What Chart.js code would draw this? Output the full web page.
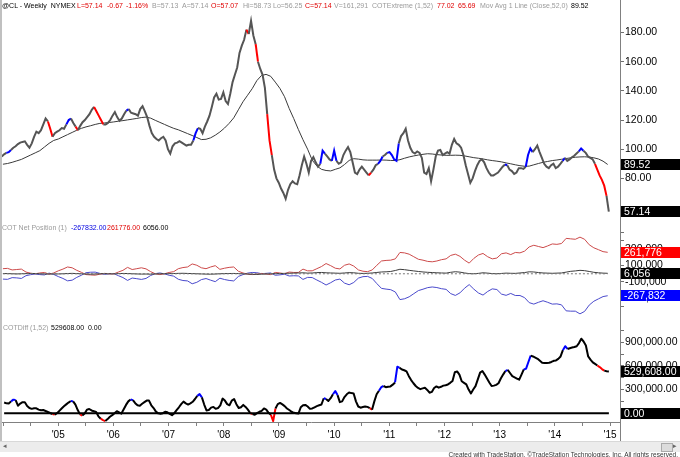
<!DOCTYPE html>
<html><head><meta charset="utf-8">
<script src="https://cdn.jsdelivr.net/npm/chart.js@4.4.1/dist/chart.umd.min.js"></script>
<style>
body{margin:0;background:#fff;width:680px;height:457px;overflow:hidden;position:relative;font-family:"Liberation Sans",Arial,sans-serif;}
canvas{position:absolute;left:0;}
.h{position:absolute;font-size:7px;white-space:pre;line-height:8px;}
.g{color:#9a9a9a}.r{color:#e00000}.k{color:#000}.b{color:#0000e0}
.box{position:absolute;left:621px;width:59px;height:11px;line-height:11px;font-size:10.5px;color:#fff;padding-left:3px;box-sizing:border-box;}
</style></head><body>
<canvas id="c1" width="680" height="223" style="top:0"></canvas>
<canvas id="c2" width="680" height="99" style="top:223px"></canvas>
<canvas id="c3" width="680" height="120" style="top:322px"></canvas>
<div style="position:absolute;left:620px;top:0;width:1px;height:441px;background:#808080"></div>
<div style="position:absolute;left:0;top:0;width:2px;height:441px;background:#c0c0c0"></div>
<div style="position:absolute;left:0;top:441px;width:680px;height:10px;background:#ececec;border-top:1px solid #d8d8d8"></div>
<div style="position:absolute;left:3px;top:442px;font-size:7px;color:#666">&#9666;</div>
<div style="position:absolute;left:661px;top:443px;width:10px;height:7px;background:#dcdcdc;border:1px solid #aaa"></div>
<div style="position:absolute;left:673px;top:442px;font-size:7px;color:#666">&#9656;</div>
<div style="position:absolute;right:2px;top:451px;font-size:6.5px;color:#333;white-space:pre">Created with TradeStation. ©TradeStation Technologies, Inc. All rights reserved.</div>

<div class="h k" style="left:2px;top:2px">@CL - Weekly  NYMEX</div>
<div class="h r" style="left:77px;top:2px">L=57.14</div>
<div class="h r" style="left:107px;top:2px">-0.67</div>
<div class="h r" style="left:126px;top:2px">-1.16%</div>
<div class="h g" style="left:152px;top:2px">B=57.13</div>
<div class="h g" style="left:182px;top:2px">A=57.14</div>
<div class="h r" style="left:211px;top:2px">O=57.07</div>
<div class="h g" style="left:243px;top:2px">Hi=58.73</div>
<div class="h g" style="left:273px;top:2px">Lo=56.25</div>
<div class="h r" style="left:305px;top:2px">C=57.14</div>
<div class="h g" style="left:334px;top:2px">V=161,291</div>
<div class="h g" style="left:372px;top:2px">COTExtreme (1,52)</div>
<div class="h r" style="left:437px;top:2px">77.02</div>
<div class="h r" style="left:458px;top:2px">65.69</div>
<div class="h g" style="left:480px;top:2px">Mov Avg 1 Line (Close,52,0)</div>
<div class="h k" style="left:571px;top:2px">89.52</div>

<div class="h g" style="left:2px;top:224px">COT Net Position (1)</div>
<div class="h b" style="left:71px;top:224px">-267832.00</div>
<div class="h r" style="left:107px;top:224px">261776.00</div>
<div class="h k" style="left:143px;top:224px">6056.00</div>

<div class="h g" style="left:3px;top:324px">COTDiff (1,52)</div>
<div class="h k" style="left:51px;top:324px">529608.00  0.00</div>

<script>
// ---------- DATA ----------
// half-month samples from Jan 2004 to Dec 2014 (24 per year)
const priceClose = [
95,96.5,97.5,98,99.5,101,102,103.5,104.5,105,105.4,103,101,104,108.5,112,111,113,117,121,119,114,108.5,111,
112,113,114.5,114,117,120,121,118,115.5,113,116,118.5,120,122,124,127,129,126,123,120,117,117,118,120,
123,125.5,122,119.5,121,124,126.5,127.5,125,124.5,124,123,127.5,129.5,126,122,116,111,108.5,107,106,107.5,108.5,106,
100,97,102,104,104.5,105.5,104.5,103.5,102.5,103,103,106,111,114.5,114,111,115.5,119,123,129,135.5,138,134,134.5,
139,133,131,138,146,151,156,166,171,175,182,179,188,178,172,160,155,151,142,124,106,96,86,80,
77,73,70,66,72,76,78,76.5,76,82,89,95,90,84,92,94.5,91,88,90,99,97,95,93,92,
99,92,90,91,96,99,101.5,98,91,84,83,86,88,86,84,82,84,86,89,90,92,95,96,97.5,
98,96,93,92,104,109,111,114,106,101,98,97,98.5,97.5,94,84,83,87,78,86,95,99,99.5,96,
97,98,97,103,107,104,103,101,96,89,83,77,80,85,89,92,93,91,87,84,82,82,83,84,
86,88,89.5,89,86,85,83,84,87,87,86.5,88,96,100.5,98,100,102.5,98,94,90,88,87,89,90,
87,88,90,92,94,92,93,94.5,95.5,97,98.5,100.5,99,97.5,95,94,93,90,86,82,79,75,68,57.14];
// COTExtreme signal segments (index of half-month)
const priceBlueIdx = [2,3,28,29,54,83,84,138,139,143,144,163,164,167,168,169,170,171,218,227,228,229,243,250,251];
const priceRedIdx  = [20,21,32,40,41,42,43,106,110,115,116,159,257,258,259,260,261];
// 52-week moving average, monthly samples
const movAvg = [
89.7,90.2,91,92,93,94.5,96,97.5,99,101.5,104,106,
107,108.5,110,111.5,113,114.3,115.3,116.1,117,117.7,118,118.3,
118.7,119.2,119.6,120.1,120.6,121.1,121.7,122,121.3,119.8,118.4,117,
115.6,114.3,113.3,112,110.7,109.4,108,106.6,106.8,107.8,109.6,111.8,
114.5,117.7,121.5,127,132.5,137,141.5,147,150.5,151.3,150,146,
141.7,136,128,121,113.5,106.5,100,92.5,88.5,86.2,85.4,85.1,
86.2,87.2,89.5,92.3,93.5,93.2,92.7,92.5,92.5,92.5,92.6,92.5,
92.3,92.2,92.8,93.8,94.7,95.4,96,96.5,96.9,96.7,96.3,96,
95.8,95.8,95.9,95.8,95.4,94.8,94.2,93.8,93.3,92.7,92.2,91.8,
91.3,90.6,90,89.3,88.7,88.3,88.4,89.3,90.2,91,91.6,92.2,
92.6,93.1,93.6,94.1,94.5,94.7,94.8,94.6,94.1,93.3,91.8,89.52];
// COT net positions, thousands of contracts, monthly
const cotRed = [
62,66,47,52,57,21,7,0,10,16,-5,10,
36,57,83,73,42,18,-10,-14,-17,-5,5,0,
-2,21,42,78,52,62,73,60,26,0,-10,0,
16,26,62,76,83,120,104,73,62,83,99,54,
68,78,83,31,10,-5,-10,-5,4,-3,-10,16,
10,0,21,16,16,57,36,36,62,88,125,99,
68,59,104,120,94,47,31,26,47,104,156,163,
166,182,260,255,239,208,177,166,151,146,156,172,
182,224,239,213,166,130,187,229,248,208,182,192,
244,255,234,260,255,276,328,348,333,319,340,364,
359,369,432,426,421,447,421,354,317,294,270,261.776];
const cotBlue = [
-65,-68,-47,-50,-57,-23,-11,-3,-10,-14,8,-8,
-34,-57,-86,-78,-44,-18,13,19,20,5,-7,0,
3,-23,-46,-81,-52,-60,-69,-57,-21,2,10,-1,
-18,-29,-67,-82,-87,-122,-104,-71,-58,-78,-96,-54,
-70,-81,-87,-33,-10,8,16,13,1,5,10,-18,
-13,-5,-27,-24,-26,-69,-44,-46,-76,-104,-137,-109,
-76,-65,-114,-134,-106,-53,-35,-32,-57,-120,-178,-187,
-194,-222,-315,-305,-281,-243,-205,-188,-169,-161,-168,-182,
-190,-242,-264,-233,-176,-132,-187,-234,-260,-216,-184,-192,
-248,-263,-240,-265,-265,-291,-352,-370,-348,-329,-348,-370,
-367,-379,-452,-456,-456,-489,-459,-382,-335,-306,-278,-267.832];
const cotBlack = [
3,2,0,-2,0,2,4,3,0,-2,-3,-2,
-2,0,3,5,2,0,-3,-5,-3,0,2,0,
-1,2,4,3,0,-2,-4,-3,-5,-2,0,1,
2,3,5,6,4,2,0,-2,-4,-5,-3,0,
2,3,4,2,0,-3,-6,-8,-5,-2,0,2,
3,5,6,8,10,12,8,10,14,16,12,10,
8,6,10,14,12,6,4,6,10,16,22,24,
28,40,55,50,42,35,28,22,18,15,12,10,
8,18,25,20,10,2,0,5,12,8,2,0,
4,8,6,5,10,15,24,22,15,10,8,6,
8,10,20,30,35,42,38,28,18,12,8,6.056];
const cotZero = [0, 0];
// COTDiff (1,52), thousands, half-month samples
const cotDiff = [
135,125,122,150,172,167,95,122,140,140,92,65,55,62,62,45,37,40,28,15,2,-10,-18,0,
30,60,88,112,135,155,150,108,40,-15,-30,-5,45,53,35,25,15,-40,-70,-88,-100,-75,-45,-25,
0,25,10,-5,50,105,150,175,165,127,100,95,120,140,160,160,100,65,20,-2,-8,0,18,12,
-10,-25,0,40,75,115,147,125,110,125,145,180,220,242,200,110,35,40,70,80,55,65,100,185,
160,115,100,160,180,115,65,75,105,80,45,2,-12,-20,0,18,30,60,45,5,-20,-100,60,115,
130,112,90,60,40,18,5,0,-5,75,100,105,85,55,60,75,90,100,110,190,180,155,190,240,
280,230,140,150,205,240,262,255,250,150,85,70,78,85,80,65,45,150,240,285,330,345,330,335,
340,362,390,590,575,555,545,530,470,420,380,345,320,305,315,322,295,260,270,320,340,324,335,350,
355,365,385,410,520,530,490,405,385,365,300,250,300,343,430,515,535,490,440,390,345,350,360,380,
440,490,535,550,510,470,455,440,425,490,555,565,650,730,720,705,690,665,640,637,637,640,650,665,
670,690,720,800,850,815,825,833,840,850,890,945,910,860,720,680,645,625,605,585,560,540,532,529.608];
const diffBlueIdx = [3,4,29,55,84,85,139,143,144,163,164,170,171,218,226,227,228,243,244];
const diffRedIdx  = [21,33,42,43,107,116,117,159,258,259,260];
const diffZero = [0, 0];
// axis ticks
const yearLabels = ["'05","'06","'07","'08","'09","'10","'11","'12","'13","'14","'15"];
const priceTicks = [80,100,120,140,160,180];
const cotTicks = [-400,-300,-200,-100,0,100,200,300,400,500];
const cotLabelTicks = [-300,-100,100,300];
const diffTicks = [0,150,300,450,600,750,900,1050];
const diffLabelTicks = [0,300,600,900];
// last values shown in boxes
const lastPrice = 57.14, lastAvg = 89.52;
const lastRed = 261.776, lastBlack = 6.056, lastBlue = -267.832;
const lastDiff = 529.608, lastZero = 0;

// ---------- helpers ----------
Chart.defaults.font.family = "'Liberation Sans', Arial, sans-serif";
Chart.defaults.animation = false;
const X0 = -0.13, X1 = 134.17;   // months since Jan 2004
const hx = i => 0.25 + 0.5 * i;
const mx = j => j + 0.5;
const pts = (arr, f) => arr.map((v, i) => ({x: f(i), y: v}));
const AXW = 60;
function yAxis(min, max, ticks, labelFn, extra) {
  return Object.assign({
    position: 'right', min, max,
    afterFit: s => { s.width = AXW; },
    afterBuildTicks: s => { s.ticks = ticks.map(v => ({value: v})); },
    border: {display: false},
    grid: {drawOnChartArea: false, drawTicks: true, tickLength: 4, color: '#707070'},
    ticks: {autoSkip: false, padding: 1, color: '#000', font: {size: 10.5}, callback: labelFn}
  }, extra || {});
}
const xHidden = {type: 'linear', min: X0, max: X1, display: false};
const baseOpts = {responsive: false, maintainAspectRatio: false, layout: {padding: 0},
  plugins: {legend: {display: false}, tooltip: {enabled: false}},
  elements: {point: {radius: 0}, line: {tension: 0}}};
const boxes = [];
function addBox(chart, canvasTop, value, color, text) {
  boxes.push({chart, canvasTop, value, color, text});
}
function placeBoxes() {
  boxes.forEach(b => {
    const y = b.chart.scales.y.getPixelForValue(b.value) + b.canvasTop;
    const d = document.createElement('div');
    d.className = 'box';
    d.style.top = (y - 5.5) + 'px';
    d.style.background = b.color;
    d.textContent = b.text;
    document.body.appendChild(d);
  });
}

// ---------- chart 1: price ----------
const c1 = new Chart(document.getElementById('c1'), {
  type: 'line',
  data: {datasets: [
    {data: pts(priceClose, hx), borderColor: '#555555', borderWidth: 2, borderJoinStyle: 'miter',
     segment: {borderColor: c => priceBlueIdx.includes(c.p0DataIndex) ? '#0000ff' : priceRedIdx.includes(c.p0DataIndex) ? '#ff0000' : undefined}},
    {data: pts(movAvg, mx), borderColor: '#3a3a3a', borderWidth: 1}
  ]},
  options: Object.assign({}, baseOpts, {scales: {
    x: xHidden,
    y: yAxis(54.4, 197.3, priceTicks, v => v.toFixed(2))
  }})
});
addBox(c1, 0, lastAvg, '#000', lastAvg.toFixed(2));
addBox(c1, 0, lastPrice, '#000', lastPrice.toFixed(2));

// ---------- chart 2: COT net position ----------
const fmtK = v => Math.round(v * 1000).toLocaleString('en-US');
const c2 = new Chart(document.getElementById('c2'), {
  type: 'line',
  data: {datasets: [
    {data: [{x: mx(0), y: cotZero[0]}, {x: mx(cotRed.length - 1), y: cotZero[1]}], borderColor: '#777', borderWidth: 1, borderDash: [2, 2]},
    {data: pts(cotBlack, mx), borderColor: '#3c3c3c', borderWidth: 1},
    {data: pts(cotRed, mx), borderColor: '#cc4a4a', borderWidth: 1},
    {data: pts(cotBlue, mx), borderColor: '#4a4acc', borderWidth: 1}
  ]},
  options: Object.assign({}, baseOpts, {scales: {
    x: xHidden,
    y: yAxis(-499.2, 530.4, cotTicks, v => cotLabelTicks.includes(v) ? fmtK(v) : '')
  }})
});
addBox(c2, 223, lastRed, '#ff0000', fmtK(lastRed));
addBox(c2, 223, lastBlack, '#000', fmtK(lastBlack));
addBox(c2, 223, lastBlue, '#0000ff', fmtK(lastBlue));

// ---------- chart 3: COTDiff ----------
const fmtK2 = v => (v * 1000).toLocaleString('en-US', {minimumFractionDigits: 2, maximumFractionDigits: 2});
const xTicks = [];
for (let m = 0; m <= 132; m += 6) xTicks.push(m);
const c3 = new Chart(document.getElementById('c3'), {
  type: 'line',
  data: {datasets: [
    {data: [{x: hx(0), y: diffZero[0]}, {x: hx(cotDiff.length - 1), y: diffZero[1]}], borderColor: '#000', borderWidth: 2},
    {data: pts(cotDiff, hx), borderColor: '#000', borderWidth: 2, borderJoinStyle: 'round',
     segment: {borderColor: c => diffBlueIdx.includes(c.p0DataIndex) ? '#0000ff' : diffRedIdx.includes(c.p0DataIndex) ? '#ff0000' : undefined}}
  ]},
  options: Object.assign({}, baseOpts, {scales: {
    x: {type: 'linear', min: X0, max: X1, position: 'bottom',
        afterFit: s => { s.height = 20; },
        afterBuildTicks: s => { s.ticks = xTicks.map(v => ({value: v})); },
        border: {display: true, color: '#808080'},
        grid: {drawOnChartArea: false, drawTicks: true, tickLength: 4, color: '#808080'},
        ticks: {autoSkip: false, maxRotation: 0, padding: 3, color: '#000', font: {size: 10},
                callback: v => (v % 12 === 0 && v > 0) ? yearLabels[v / 12 - 1] : ''}},
    y: yAxis(-111.8, 1064.7, diffTicks, v => diffLabelTicks.includes(v) ? fmtK2(v) : '')
  }})
});
addBox(c3, 322, lastDiff, '#000', fmtK2(lastDiff));
addBox(c3, 322, lastZero, '#000', fmtK2(lastZero));
placeBoxes();
</script>
</body></html>
